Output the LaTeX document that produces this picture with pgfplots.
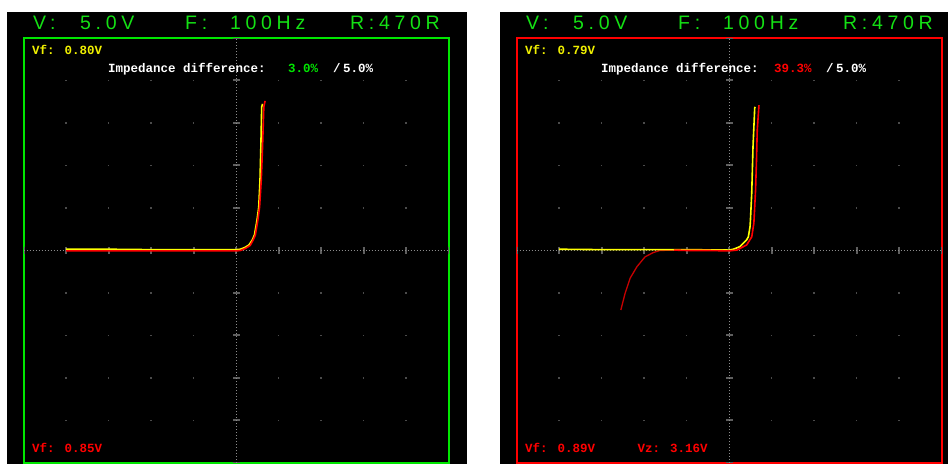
\documentclass[border=0pt]{standalone}
\usepackage{fontspec}
\setmainfont{Liberation Sans}
\newfontfamily\hdr[LetterSpace=24]{Liberation Sans}
\newfontfamily\mono{Liberation Mono}
\usepackage{pgfplots}
\pgfplotsset{compat=1.18}
\definecolor{scrgreen}{RGB}{0,230,0}
\definecolor{hdrgreen}{RGB}{20,225,20}
\definecolor{scryellow}{RGB}{255,255,0}
\definecolor{txtyellow}{RGB}{240,240,0}
\definecolor{scrred}{RGB}{255,0,0}
\definecolor{darkred}{RGB}{200,0,0}
\definecolor{gridgray}{RGB}{75,75,75}
\definecolor{tickgray}{RGB}{95,95,95}
\definecolor{dotgray}{RGB}{140,140,140}
\pgfplotsset{
  scope/.style={
    scale only axis, width=425pt, height=425pt,
    xmin=-5, xmax=5, ymin=-5, ymax=5,
    xtick={-4,...,4}, ytick={-4,...,4},
    xticklabels={}, yticklabels={},
    major tick length=0pt, tick style={draw=none},
    grid=major,
    major grid style={gridgray, line width=1.5pt, dash pattern=on 1.5pt off 41pt, dash phase=0.75pt},
    axis line style={line width=2pt},
    anchor=south west, clip=false,
  }
}
\newcommand{\cross}{%
  \draw[tickgray, line width=7pt, dash pattern=on 2pt off 40.5pt, dash phase=1pt] (axis cs:0,-5) -- (axis cs:0,5);
  \draw[tickgray, line width=7pt, dash pattern=on 2pt off 40.5pt, dash phase=1pt] (axis cs:-5,0) -- (axis cs:5,0);
  \draw[dotgray, line width=0.8pt, dash pattern=on 1pt off 2pt] (axis cs:0,-5) -- (axis cs:0,5);
  \draw[dotgray, line width=0.8pt, dash pattern=on 1pt off 2pt] (axis cs:-5,0) -- (axis cs:5,0);
}
\begin{document}
\begin{tikzpicture}[x=1pt,y=1pt]
\fill[white] (0,0) rectangle (948,464);
\fill[black] (7,0) rectangle (467,452);
\fill[black] (500,0) rectangle (948,452);

% header texts
\foreach \dx in {0,493}{
  \begin{scope}[xshift=\dx pt]
  \node[anchor=base west, inner sep=0, text=hdrgreen, font=\hdr\fontsize{19.5}{20}\selectfont] at (33,434) {V:};
  \node[anchor=base west, inner sep=0, text=hdrgreen, font=\hdr\fontsize{19.5}{20}\selectfont] at (80,434) {5.0V};
  \node[anchor=base west, inner sep=0, text=hdrgreen, font=\hdr\fontsize{19.5}{20}\selectfont] at (185,434) {F:};
  \node[anchor=base west, inner sep=0, text=hdrgreen, font=\hdr\fontsize{19.5}{20}\selectfont] at (230,434) {100Hz};
  \node[anchor=base west, inner sep=0, text=hdrgreen, font=\hdr\fontsize{19.5}{20}\selectfont] at (350,434) {R:470R};
  \end{scope}
}

% left panel
\begin{axis}[scope, at={(23.7pt,1pt)}, axis line style={scrgreen, line width=2pt}]
\cross
\addplot[scryellow, line width=1.6pt] coordinates {
(-4,0.03) (-3,0.03) (-2,0.02) (-1,0.02) (0,0.02) (0.1,0.03) (0.2,0.07) (0.3,0.13)
(0.38,0.25) (0.43,0.37) (0.49,0.72) (0.53,1.02) (0.56,1.66) (0.58,2.44) (0.6,3.38) (0.62,3.45)};
\addplot[scrred, line width=1.6pt] coordinates {
(-4,-0.01) (-3,-0.01) (-2,-0.01) (-1,-0.01) (0,-0.01) (0.1,0.0) (0.22,0.05) (0.33,0.12)
(0.40,0.25) (0.45,0.36) (0.51,0.72) (0.55,1.02) (0.59,1.66) (0.62,2.44) (0.65,3.38) (0.68,3.52)};
\end{axis}
\node[anchor=base west, inner sep=0, text=txtyellow, font=\mono\bfseries\fontsize{12.5}{13}\selectfont] at (32,409) {Vf: 0.80V};
\node[anchor=base west, inner sep=0, text=white, font=\mono\bfseries\fontsize{12.5}{13}\selectfont] at (108,391.5) {Impedance difference:};
\node[anchor=base west, inner sep=0, text=scrgreen, font=\mono\bfseries\fontsize{12.5}{13}\selectfont] at (288,391.5) {3.0\%};
\node[anchor=base west, inner sep=0, text=white, font=\mono\bfseries\fontsize{12.5}{13}\selectfont] at (333,391.5) {/};
\node[anchor=base west, inner sep=0, text=white, font=\mono\bfseries\fontsize{12.5}{13}\selectfont] at (343,391.5) {5.0\%};
\node[anchor=base west, inner sep=0, text=scrred, font=\mono\bfseries\fontsize{12.5}{13}\selectfont] at (32,11) {Vf: 0.85V};

% right panel
\begin{axis}[scope, at={(516.7pt,1pt)}, axis line style={scrred, line width=2pt}]
\cross
\addplot[darkred, line width=1.3pt] coordinates {
(-2.55,-1.40) (-2.45,-1.01) (-2.33,-0.65) (-2.17,-0.38) (-1.98,-0.15) (-1.79,-0.05) (-1.63,0) (-1.3,0.01)};
\addplot[scryellow, line width=1.6pt] coordinates {
(-4,0.03) (-3,0.02) (-2,0.02) (-1,0.02) (0,0.01) (0.1,0.03) (0.25,0.09) (0.41,0.25) (0.45,0.32)
(0.49,0.56) (0.5,0.72) (0.53,1.35) (0.56,2.44) (0.60,3.35) (0.61,3.38)};
\addplot[scrred, line width=1.6pt] coordinates {
(-1.3,0.01) (-1,0.0) (-0.5,0.0) (0,-0.01) (0.18,0.01) (0.41,0.13) (0.53,0.32) (0.58,0.64)
(0.62,1.42) (0.64,2.05) (0.66,2.84) (0.70,3.42)};
\end{axis}
\node[anchor=base west, inner sep=0, text=txtyellow, font=\mono\bfseries\fontsize{12.5}{13}\selectfont] at (525,409) {Vf: 0.79V};
\node[anchor=base west, inner sep=0, text=white, font=\mono\bfseries\fontsize{12.5}{13}\selectfont] at (601,391.5) {Impedance difference:};
\node[anchor=base west, inner sep=0, text=scrred, font=\mono\bfseries\fontsize{12.5}{13}\selectfont] at (774,391.5) {39.3\%};
\node[anchor=base west, inner sep=0, text=white, font=\mono\bfseries\fontsize{12.5}{13}\selectfont] at (826,391.5) {/};
\node[anchor=base west, inner sep=0, text=white, font=\mono\bfseries\fontsize{12.5}{13}\selectfont] at (836,391.5) {5.0\%};
\node[anchor=base west, inner sep=0, text=scrred, font=\mono\bfseries\fontsize{12.5}{13}\selectfont] at (525,11) {Vf: 0.89V};
\node[anchor=base west, inner sep=0, text=scrred, font=\mono\bfseries\fontsize{12.5}{13}\selectfont] at (637.5,11) {Vz: 3.16V};
\end{tikzpicture}
\end{document}
